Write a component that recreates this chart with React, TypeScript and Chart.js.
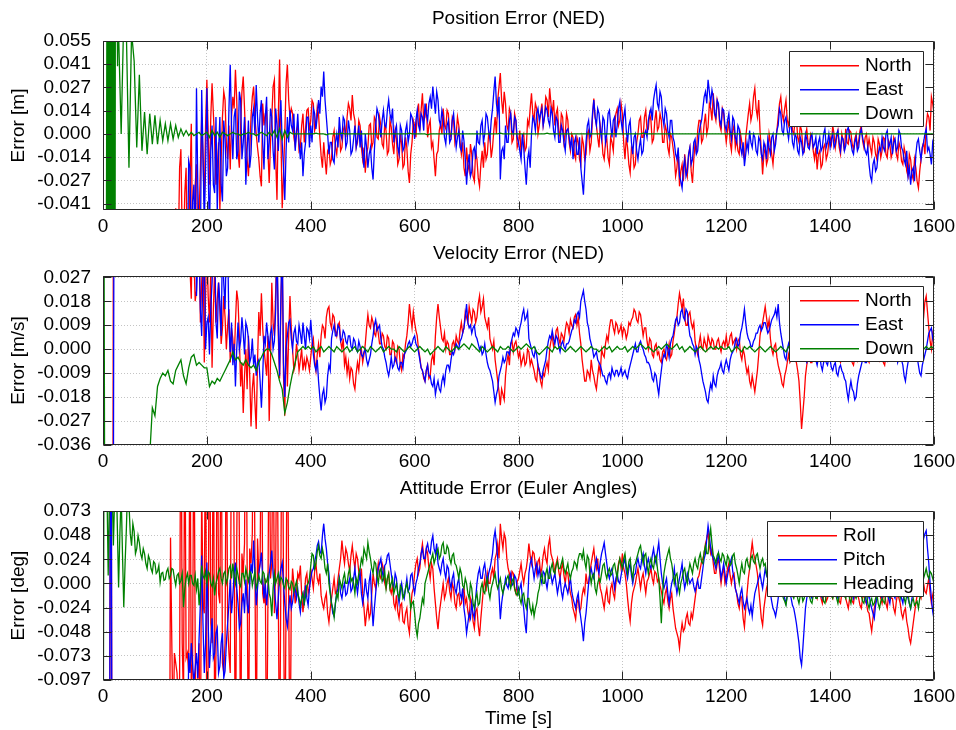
import React, { useEffect, useRef } from "react";
import { Chart, registerables } from "chart.js";

Chart.register(...registerables);

const FONT_FAMILY = "'Liberation Sans', Arial, Helvetica, sans-serif";
const FONT_SIZE = 19;
const TEXT_COLOR = "#000000";
const FRAME_COLOR = "#262626";
const GRID_COLOR = "#c4c4c4";
const LINE_WIDTH = 1.3;

// ---------- time axis ----------
const SAMPLE_STEP_S = 5;     // main samples: t = 0, 5, 10, ... 1600 s
const MID_OFFSET_S = 2.5;    // in-between samples: t = 2.5, 7.5, ... 1597.5 s
const BURST_START_S = 1;     // dense early burst samples (1 s apart) from t = 1 s
const BURST_STEP_S = 1;
const TIME_MIN_S = 0;
const TIME_MAX_S = 1600;
const timeTickValues = [0, 200, 400, 600, 800, 1000, 1200, 1400, 1600];
const timeTickLabels = ["0", "200", "400", "600", "800", "1000", "1200", "1400", "1600"];

// ---------- panel 1 : position error (mm) ----------
const posTickValues = [0.055, 0.04125, 0.0275, 0.01375, 0, -0.01375, -0.0275, -0.04125];
const posTickLabels = ["0.055", "0.041", "0.027", "0.014", "0.000", "-0.014", "-0.027", "-0.041"];
const POS_MIN = -0.045;
const POS_MAX = 0.055;

const posNorthMm = [
  -200,-200,-200,-200,-200,-200,-200,-200,-200,-200,-200,-200,-200,-200,-200,-200,-200,-200,-200,-200,
  -200,-200,-200,-200,-200,-200,-200,-200,-44,-70,-9,-70,-20,-60,6,-55,-18,-50,10,-40,
  32,-30,30,-5,-20,-45,10,20,-15,-21,22,38,-10,5,34,-5,-25,10,28,0,
  -15,-31,5,14,-29,10,32,-39,44,-44,0,41,10,12,-7,5,-8,12,3,15,
  8,18,5,12,-13,-5,-24,-8,-15,2,-12,3,-8,5,10,15,23,8,-5,5,
  -15,-23,-8,6,-5,8,-3,5,-8,2,-10,4,-12,-3,-15,-6,-18,-8,-29,-5,
  5,12,2,24,10,-2,8,-5,-25,-10,6,15,3,12,-2,8,0,5,-12,-20,
  -8,-22,-12,-28,-15,-31,-10,-5,-12,-2,-8,10,20,36,12,18,2,12,-3,8,
  -5,-12,0,-8,5,24,8,15,5,18,10,20,27,12,5,15,-2,10,0,8,
  -10,-2,-15,-5,-18,-6,-12,2,-5,21,5,-8,0,-15,-3,-18,-5,5,15,8,
  12,-15,-8,-23,-10,-18,0,10,-2,14,3,8,-3,14,4,8,-5,2,-12,-2,
  -14,-20,-31,-18,-12,-25,-8,-29,-5,2,8,-3,12,4,15,24,8,16,2,12,
  -5,8,-10,5,-3,-12,-5,-15,5,18,12,27,10,2,-24,-8,-15,-5,-18,-3,
  10,22,8,20,5,14,0,10,-5,2,-10,3,-8,-2,-15,-21,-10,-18,-6,-12,
  -2,5,-8,2,-12,-4,3,-6,1,-9,0,-4,5,-8,0,-3,-12,-5,-15,-6,
  -10,-3,-14,-6,-11,-4,-15,-8,-18,-12,-25,-15,-27,-20,-32,-15,-5,5,10,22,
  12,
];
const posNorthMidMm = [
  -200,-200,-200,-200,-200,-200,-200,-200,-200,-200,-200,-200,-200,-200,-200,-200,-200,-200,-200,-200,
  -200,-200,-200,-200,-200,-200,-200,-200,-80,-20,-60,-35,-80,-30,-70,-30,-65,-20,-15,5,
  0,10,12,-30,-5,-15,25,-5,5,10,15,20,-20,25,15,-15,-10,22,10,-8,
  -25,18,12,-10,-5,28,-15,10,0,-25,30,20,15,-2,2,-10,5,-5,14,2,
  20,2,16,-2,-20,-15,-10,-18,-2,-8,-2,-10,2,-2,18,8,12,-8,8,-8,
  -8,-12,5,-8,10,-2,10,-6,6,-12,8,-6,2,-18,0,-20,-2,-22,-12,8,
  -2,18,14,8,18,5,-8,-15,-12,2,0,5,14,0,10,-5,10,-5,-5,-25,
  -18,-6,-25,-10,-26,-18,-20,-15,0,-14,2,0,28,20,25,5,15,-5,12,-8,
  2,-2,-10,8,15,12,18,0,12,5,22,10,18,20,12,2,12,-5,12,-5,
  0,-12,-2,-15,-2,-15,0,-10,10,10,-2,5,-12,-5,-14,-2,-10,12,5,18,
  -5,-2,-18,-8,-20,-5,8,-2,10,2,12,-5,8,2,12,-5,5,-8,0,-8,
  -25,-10,-22,-28,-20,-12,-22,-15,-12,8,-5,6,0,18,8,12,20,5,15,2,
  2,-5,2,-8,-10,0,-12,-2,12,8,22,15,20,-10,-12,-18,0,-12,-8,2,
  18,12,15,8,12,2,8,-2,5,-8,-2,-5,0,-10,-8,-12,-20,-8,-15,-5,
  -6,0,-2,-8,0,-10,-5,2,-6,-3,-8,2,-4,-2,-8,-8,-2,-12,-3,-14,
  -2,-12,-4,-14,-2,-12,-5,-16,-8,-22,-12,-24,-15,-28,-22,-8,-12,12,2,18,
];

const posEastMm = [
  -200,-200,-200,-200,-200,-200,-200,-200,-200,-200,-200,-200,-200,-200,-200,-200,-200,-200,-200,-200,
  -200,-200,-200,-200,-200,-200,-200,-200,-200,-200,-200,-200,-200,-16,-70,-30,27,-60,26,-55,
  27,-60,5,-35,-46,10,-40,-3,-20,41,-15,15,-10,20,-5,-30,8,-12,15,29,
  -5,20,-21,22,-5,10,-21,5,8,-5,-39,10,14,2,-10,12,-15,-25,-5,10,
  5,15,3,20,28,37,10,-12,-5,-17,0,10,-3,8,-5,2,-10,5,-3,-8,
  -12,0,-20,-8,-27,5,12,-2,14,4,20,8,-5,5,-12,2,-8,6,0,10,
  -3,14,2,10,18,8,22,28,12,20,5,10,-6,8,-3,12,-8,2,-10,-4,
  -30,-12,-22,-8,2,-6,8,0,10,-3,15,34,12,-27,-8,5,-5,12,0,8,
  -5,-15,-8,-30,-10,0,8,12,8,15,10,14,5,12,-2,8,-5,2,-10,3,
  -8,-15,-2,-12,-20,-36,-5,8,0,20,5,12,-3,8,0,14,-2,10,5,19,
  2,15,-5,8,-12,0,-15,-3,-10,2,8,15,20,29,15,22,5,12,-2,8,
  -5,-15,-25,-32,-15,-22,-8,-15,-3,-10,5,15,25,32,18,22,10,18,5,14,
  2,12,-3,8,-5,3,-12,-19,-5,2,-8,-2,-12,-4,-15,-8,-3,-12,0,-6,
  5,12,0,10,-3,6,-8,-2,-12,-5,-10,-3,-9,0,-6,-12,-2,-8,3,-5,
  -8,0,-6,2,-10,-3,-7,4,-5,-12,-2,-8,3,-6,-12,-18,-28,-15,-20,-8,
  -2,-10,2,-6,-12,-3,-8,0,-10,-18,-25,-30,-20,-12,-3,-15,-5,3,-8,-18,
  -8,
];
const posEastMidMm = [
  -200,-200,-200,-200,-200,-200,-200,-200,-200,-200,-200,-200,-200,-200,-200,-200,-200,-200,-200,-200,
  -200,-200,-200,-200,-200,-200,-200,-200,-200,-200,-200,-200,-80,-20,-40,-75,-30,-70,-10,-20,
  -20,-10,-30,10,-10,-30,8,-25,15,5,10,-15,25,-15,10,-10,-20,10,0,10,
  12,-5,10,-15,15,-10,15,-10,20,-20,-10,-5,5,12,0,-5,-5,-12,10,-8,
  -5,12,10,12,22,20,0,-5,-15,-5,-8,0,10,-8,8,-12,-3,-8,5,2,
  -20,-8,-12,-20,-10,15,5,8,5,14,12,15,2,-8,5,-10,2,-5,12,5,
  8,5,12,2,12,18,15,20,25,8,14,-2,5,-5,8,2,-2,-8,2,-15,
  -18,-25,-10,-15,-5,5,-5,12,2,8,25,18,22,-10,-15,-5,8,2,10,-2,
  -10,0,-20,-15,-20,10,2,15,12,5,16,8,15,2,10,-5,5,-5,2,-2,
  -2,-5,-12,-2,-28,-20,5,-2,12,10,15,2,10,-5,12,5,8,-2,15,8,
  10,2,5,-5,-2,-10,-8,-12,0,-2,12,8,25,18,25,10,15,2,8,-2,
  -12,-8,-28,-20,-25,-12,-18,-5,-12,0,8,22,18,25,26,12,20,8,15,5,
  8,2,10,-2,5,-8,-5,-12,-10,-5,0,-10,-2,-12,-5,-15,-8,-2,-10,2,
  15,2,8,2,5,-5,0,-10,-2,-12,0,-8,-2,-8,-2,-5,-10,0,-8,0,
  -3,-8,0,-5,-2,-10,2,-2,-10,-5,-10,0,-2,-10,-8,-25,-18,-22,-12,-10,
  -8,0,-8,-2,-5,-10,2,-8,-15,-10,-20,-22,-28,-5,-10,-8,0,-10,-12,-5,
];

const posDownMm = [
  -150,-150,150,-150,150,80,60,0,70,60,-20,60,43,-8,35,-10,13,-12,12,-6,
  11,-6,8,-4,6,-4,6,-3,5,-2,3,-1,2,-1,1,-1,0,1,-1,0,
  1,-2,2,-1,1,-2,1,0,-1,0,1,0,0,-1,0,0,1,0,0,-1,
  0,1,0,-1,1,-1,2,-2,3,-3,2,-2,1,0,0,0,0,0,0,0,
  0,0,0.5,0,0,0,-0.5,0,0,0,0,0,0.5,0,0,0,0,0,0,0,
  0,0,0,0,0,0,0,0,0,0,0,0,0,0,0,0,0,0,0.5,0,
  0,0,0,0,0,-0.5,0,0,0,0,0,0,0,0,0,0,0,0,0,0,
  0,0,0,0,0,0,0,0,0,0,0,0,0,0.5,0,0,0,0,0,0,
  0,0,0,0,0,0,0,0,0,0,0,0.5,0,0,0,0,0,0,0,0,
  0,0,0,0,0,0,0,0,0,0,0,0,0,0,0,0,0,0,0,0,
  0,0,0,0,0,0,0,0,0.5,0,0,0,0,0,0,0,0,0,0,0,
  0,0,0,0,0,0,0,0,0,0,0,0,0,0,0,0,0,0,0,0,
  0,0,0,0,0,0,0,0,0,0,0,0,0,0,0,0,0,0,0,0,
  0,0,0,0,0,0,0,0,0,0,0,0,0,0,0,0,0,0,0,0,
  0,0,0,0,0,0,0,0,0,0,0,0,0,0,0,0,0,0,0,0,
  0,0,0,0,0,0,0,0,0,0,0,0,0,0,0,0,0,0,0,0,
  0,
];
// early 1-s samples of the Down position transient (t = 1 .. 29 s)
const posDownBurstMm = [
  -150,-150,-150,-150,-150,-150,-150,150,-150,150,-150,150,-150,150,-150,
  150,-150,150,-150,150,-150,150,-150,150,80,60,90,40,70,
];

// ---------- panel 2 : velocity error (mm/s) ----------
const velTickValues = [0.027, 0.018, 0.009, 0, -0.009, -0.018, -0.027, -0.036];
const velTickLabels = ["0.027", "0.018", "0.009", "0.000", "-0.009", "-0.018", "-0.027", "-0.036"];
const VEL_MIN = -0.036;
const VEL_MAX = 0.0275;

const velNorthMmS = [
  -300,-300,-300,-300,60,200,200,200,200,200,200,200,200,200,200,200,200,200,200,200,
  200,200,200,200,200,200,200,200,200,200,200,200,200,40,19,35,22,40,25,-5,
  40,10,-7,30,19,15,8,12,9,-5,4,10,18,-14,-24,0,5,-29,-9,-30,
  14,21,0,-10,-27,25,5,40,-11,40,-25,-14,20,0,-6,-2,-4,-8,-7,-5,
  -3,4,-8,2,5,8,12,16,8,12,5,10,0,-6,-9,-11,-8,-15,-5,-2,
  -5,2,13,8,10,5,6,2,5,0,4,-2,2,-5,0,-8,-3,5,17,8,
  10,5,-3,-8,-12,-6,-10,-2,5,17,8,3,0,2,-2,3,5,2,10,8,
  12,16,10,14,12,20,16,12,8,4,0,-4,-12,-21,-17,-10,-2,2,-1,3,
  -3,-6,-2,-5,-1,-4,-8,-12,-8,-14,-10,-5,0,5,3,8,2,5,7,9,
  11,8,13,12,2,-8,-12,-9,-4,-10,-15,-6,0,-3,5,8,11,6,9,7,
  5,7,6,9,12,14,10,13,5,8,0,3,-3,2,-1,-5,0,-4,2,-2,
  6,12,21,15,12,9,14,8,3,-2,5,0,2,5,1,3,0,4,-1,3,
  5,2,6,3,0,4,-4,-2,-9,-12,-10,-16,-8,5,10,16,8,4,-2,2,
  -6,-10,-14,-8,-2,-4,0,-5,-12,-30,-18,-6,-2,-5,0,-3,2,-2,1,-4,
  0,-3,2,-2,-5,0,-4,1,-3,-6,-2,0,-4,2,-2,-5,0,-3,1,-4,
  -2,-6,0,-3,2,-2,0,-4,-1,2,-3,0,3,-2,1,5,12,20,8,0,
  4,
];
const velNorthMidMmS = [
  -300,-300,-300,-300,200,200,200,200,200,200,200,200,200,200,200,200,200,200,200,200,
  200,200,200,200,200,200,200,200,200,200,200,200,100,30,60,18,60,10,40,20,
  20,30,15,10,25,2,20,0,15,8,-5,22,5,-5,-10,-15,-10,-15,-20,-5,
  5,8,-5,5,-5,10,22,5,15,-10,10,5,8,-8,2,-8,0,-4,-3,-8,
  2,-4,-2,-3,9,4,15,10,13,7,9,3,4,-3,-5,-7,-13,-9,-8,0,
  -2,8,9,12,6,9,2,6,1,5,-2,3,-4,1,-6,-2,2,10,12,14,
  7,0,-7,-11,-8,-11,-4,-6,12,12,4,6,3,-2,2,0,3,7,6,14,
  10,13,15,10,17,14,19,10,12,2,3,-8,-16,-15,-19,-5,-6,3,2,0,
  -1,-4,-6,0,-6,-6,-11,-6,-12,-9,-7,-8,3,1,7,4,6,3,10,6,
  9,12,9,6,-4,-12,-8,-11,-8,-13,-10,-9,-2,2,3,11,8,10,6,9,
  8,4,10,11,15,11,14,9,8,3,4,-2,1,-2,-4,-1,-3,-1,-3,3,
  10,17,18,19,9,13,10,10,0,2,1,4,0,3,4,0,3,1,2,1,
  1,5,2,4,3,-2,0,-6,-7,-14,-13,-12,-2,8,13,12,11,0,1,-3,
  -8,-13,-10,-5,-5,0,-4,-8,-20,-24,-10,-3,-5,-1,-4,1,-1,2,-3,1,
  2,-1,-2,-4,-2,-3,-1,-2,-5,-3,-4,-3,0,-1,-4,-2,-2,0,-2,-1,
  -5,-2,-4,0,-1,1,-3,0,0,-1,-2,2,0,-1,4,8,18,14,3,6,
];

const velEastMmS = [
  -300,-300,-300,-300,-60,200,200,200,200,200,200,200,200,200,200,200,200,200,200,200,
  200,200,200,200,200,200,200,200,200,200,200,200,200,200,200,200,20,40,5,35,
  10,-2,25,40,4,18,40,15,40,-1,-6,-14,10,3,6,10,4,-3,-6,-10,
  -4,-22,5,10,0,8,3,40,-10,40,-18,5,11,0,8,2,6,10,0,7,
  11,-2,-8,-12,-23,-15,-18,-6,4,9,5,8,4,6,2,5,0,3,-1,1,
  -3,0,-6,-2,5,11,8,4,0,-5,-10,-3,-6,-4,-8,-5,-2,0,3,2,
  5,1,-4,-8,-12,-6,-10,-14,-17,-12,-16,-10,-8,-6,-4,-2,2,0,4,8,
  17,8,6,9,4,0,-2,2,-5,-8,-12,-20,-15,-8,-3,-4,-1,2,6,8,
  5,10,15,12,4,0,-3,-2,-8,-11,-6,0,5,7,2,4,-1,3,0,2,
  5,8,10,14,18,22,15,8,2,-3,-1,-5,-8,-10,-13,-9,-7,-10,-8,-9,
  -10,-8,-11,-6,-2,2,-1,3,0,-3,-5,-8,-12,-10,-17,-8,-2,2,-3,4,
  8,12,10,15,11,14,5,2,-2,0,-6,-12,-16,-20,-13,-10,-14,-8,-5,-9,
  -4,-8,-2,0,4,2,8,15,6,3,1,4,6,9,8,10,6,9,12,15,
  17,6,0,-4,2,-2,3,0,-3,1,-2,-5,0,-4,-1,-6,-2,-8,-3,-6,
  -4,-8,-5,-10,-6,-9,-12,-19,-12,-16,-18,-10,-6,-2,-5,0,-3,2,-2,1,
  -1,2,-4,0,-2,2,-5,-1,-6,-12,-5,0,-3,1,-6,-10,-4,0,6,8,
  2,
];
const velEastMidMmS = [
  -300,-300,-300,-300,200,200,200,200,200,200,200,200,200,200,200,200,200,200,200,200,
  200,200,200,200,200,200,200,200,200,200,200,200,200,200,200,100,35,15,30,0,
  12,15,40,10,25,5,25,40,8,10,2,0,0,12,-2,8,-5,4,-2,-5,
  -12,-10,2,5,6,0,15,10,20,-5,0,10,4,6,3,9,2,5,8,4,
  4,-6,-4,-18,-17,-20,-10,-8,7,5,9,3,7,3,5,1,4,0,3,-2,
  -1,-4,-4,2,9,7,9,1,-3,-8,-7,-7,-3,-7,-5,-7,-1,2,1,4,
  2,-1,-7,-10,-8,-10,-13,-11,-14,-15,-12,-13,-6,-8,-1,0,1,3,6,12,
  10,9,8,5,2,1,-1,-2,-7,-10,-16,-17,-10,-6,-5,-1,-2,4,5,7,
  8,13,11,14,2,-2,0,-6,-10,-8,-4,3,4,4,5,1,2,1,2,3,
  7,11,13,12,20,18,10,4,0,-2,-4,-6,-10,-12,-10,-11,-9,-8,-10,-7,
  -9,-10,-8,-4,0,-1,2,1,-2,-5,-6,-11,-9,-14,-12,-4,-3,0,2,5,
  11,9,14,12,15,9,4,1,1,-4,-9,-14,-19,-16,-15,-13,-10,-7,-8,-6,
  -6,-4,-1,3,1,6,11,10,4,1,3,6,8,7,10,8,7,11,13,12,
  10,3,-3,0,-1,2,0,-2,-1,-2,-4,-2,-3,-2,-4,-3,-6,-5,-5,-3,
  -7,-6,-9,-7,-8,-11,-16,-15,-15,-19,-13,-8,-4,-5,-2,-2,0,-1,0,-2,
  1,-2,-1,-3,1,-2,-3,-4,-10,-8,-3,-2,0,-3,-9,-6,-2,3,7,4,
];

const velDownMmS = [
  200,-200,-200,-200,-200,-200,-200,-200,-200,-200,-200,-200,-200,-200,-200,-200,-200,-200,-40,-22,
  -25,-14,-11,-9,-10,-8,-12,-13,-8,-6,-4,-10,-13,-7,-3,-2,-6,-5,-6,-7,
  -7,-14,-12,-13,-11,-12,-10,-8,-6,-4,-1,-4,-3,-5,-6,-4,-6,-7,-6,-8,
  -5,-3,-1,0,0,-2,-5,-8,-12,-15,-24,-20,-14,-9,-5,-1,0,1,0,1,
  0,1,-1,0,1,-1,0,1,0,-1,1,0,-1,0,1,-1,0,1,-1,0,
  1,0,-1,1,0,-1,0,1,-1,0,1,0,0,-1,1,0,-1,0,1,0,
  -1,0,1,0,-1,0,-2,-1,0,1,0,-1,1,0,-1,0,1,0,1,2,
  1,0,2,1,0,-1,1,0,-1,0,1,0,-1,1,0,0,1,0,-1,0,
  1,0,1,2,1,0,1,-1,-2,-1,0,1,0,-1,1,0,1,0,-1,0,
  1,0,-1,0,1,0,-1,0,1,0,0,-1,0,1,0,1,-1,0,1,0,
  0,1,-1,0,1,0,1,2,1,0,1,0,-1,0,1,0,1,2,1,0,
  1,2,0,1,-1,0,1,0,-1,0,1,0,-1,0,1,0,1,0,1,0,
  0,1,-1,0,1,0,-1,1,0,1,0,-1,0,1,0,-1,0,1,0,-1,
  0,1,0,-1,1,0,1,0,-1,0,1,0,-1,0,1,0,0,-1,1,0,
  -1,0,1,0,-1,1,0,-1,0,1,0,-1,1,0,0,1,-1,0,1,0,
  0,-1,1,0,1,0,-1,0,1,0,-1,1,0,1,0,-1,0,1,0,1,
  0,
];

// ---------- panel 3 : attitude error (millidegrees) ----------
const attTickValues = [0.07275, 0.0485, 0.02425, 0, -0.02425, -0.0485, -0.07275, -0.097];
const attTickLabels = ["0.073", "0.048", "0.024", "0.000", "-0.024", "-0.048", "-0.073", "-0.097"];
const ATT_MIN = -0.097;
const ATT_MAX = 0.07275;

const attRollMdeg = [
  -300,-300,-300,400,-300,-300,-300,-300,-300,-300,-300,-300,-300,-300,-300,-300,-300,-300,-300,-300,
  -300,-300,-300,-300,-300,-300,46,-150,-80,-120,250,-120,-75,-90,-110,200,-200,-60,100,-30,
  -200,250,-60,-150,200,-20,-80,-60,-40,-90,200,-200,200,-200,10,250,-200,20,250,-200,
  10,200,-20,-200,200,20,-30,200,-200,250,-200,200,-200,15,-20,10,18,-29,5,-10,
  15,-5,20,0,-12,-25,-10,-39,-15,5,-8,15,43,20,30,12,38,15,25,5,
  -10,-43,-20,-30,10,-5,20,5,15,-5,10,-10,-20,-12,-35,-20,-40,-25,-50,-10,
  10,25,15,40,20,30,5,15,-20,-46,-20,0,-10,5,-15,-5,-25,-10,-20,-5,
  -15,-35,-20,-45,-25,-53,-20,5,10,0,15,25,40,60,35,45,15,0,10,-10,
  5,20,0,15,40,20,30,10,25,15,35,20,45,25,10,25,5,20,0,10,
  -10,-25,-36,-15,-25,-5,10,0,20,35,15,5,-10,-25,-5,-20,0,-15,10,25,
  30,10,-15,-38,-10,0,15,-5,10,-10,5,15,0,10,5,-8,-20,-5,-25,-10,
  -35,-50,-65,-40,-45,-30,-42,-35,-15,5,15,25,40,52,30,20,10,25,0,15,
  5,20,0,10,-10,-25,-15,-44,-10,15,41,25,10,-20,-42,-15,0,15,-5,10,
  0,15,5,-10,10,20,5,15,-5,10,-10,5,20,10,0,-15,-5,-20,-10,-15,
  -5,-15,0,-10,-20,-5,-15,-25,-10,-20,-5,-15,-25,-10,-20,-30,-48,-25,-15,-5,
  -20,-10,-25,-5,-15,-30,-10,-20,-35,-25,-45,-60,-40,-20,-5,-15,0,-10,5,-20,
  -5,
];
const attRollMidMdeg = [
  -300,-300,-300,-300,-300,-300,-300,-300,-300,-300,-300,-300,-300,-300,-300,-300,-300,-300,-300,-300,
  -300,-300,-300,-300,-300,-300,-60,-70,-90,-95,-60,200,-70,200,-80,-60,-97,-200,-20,200,
  -80,-40,200,-70,-10,200,-90,200,-70,200,30,40,50,30,40,20,35,50,25,45,
  20,-10,5,-20,5,200,15,-10,10,0,-20,-10,-20,0,-10,5,-10,-15,10,-5,
  5,12,5,10,-20,-15,-30,-25,-5,-10,5,25,30,35,20,28,25,30,12,15,
  -25,-30,-35,-10,0,10,8,20,0,5,-5,-2,-25,-28,-22,-38,-30,-42,-25,-5,
  20,10,30,28,35,15,20,-5,-35,-30,-10,-15,0,-8,0,-20,-12,-22,-10,-20,
  -28,-15,-38,-28,-42,-35,-5,-8,0,10,5,30,25,45,50,25,10,12,-5,2,
  12,8,10,25,28,32,18,22,10,28,25,38,30,20,20,12,15,8,12,-2,
  -15,-30,-20,-28,-12,-10,0,12,28,22,25,-5,-18,-12,-18,-5,-10,0,20,15,
  15,0,-28,-20,-5,8,5,5,0,2,10,5,12,2,-2,-15,-10,-18,-15,-25,
  -45,-55,-50,-48,-35,-40,-30,-25,-5,8,22,30,45,38,35,10,20,12,10,0,
  15,8,8,-5,-20,-12,-35,-25,5,30,30,18,-5,-35,-25,-5,10,2,5,5,
  10,8,-5,2,15,10,12,5,2,-2,0,15,12,2,-10,-8,-15,-12,-18,-8,
  -12,-5,-8,-18,-10,-12,-20,-15,-18,-10,-12,-22,-15,-18,-28,-40,-35,-18,-12,-15,
  -12,-20,-12,-15,-25,-18,-15,-30,-28,-38,-55,-50,-30,-12,-12,-5,-8,-2,-10,-12,
];

const attPitchMdeg = [
  -300,-300,-300,400,-300,-300,-300,-300,-300,-300,-300,-300,-300,-300,-300,-300,-300,-300,-300,-300,
  -300,-300,-300,-300,-300,-300,-300,-300,-300,-300,-300,-300,-300,-70,-60,-100,-70,-55,28,-90,
  21,-85,-35,-70,-45,-83,-50,-88,-40,4,-12,21,-20,-40,-10,4,-30,20,43,-22,
  10,31,-15,-22,10,33,-5,-36,5,21,-20,-43,-12,-19,-5,-6,-29,-10,-2,-22,
  5,15,28,42,30,60,35,10,-20,-33,-10,5,-15,0,-10,5,-5,15,-10,10,
  -20,5,-15,10,-43,-10,15,25,5,20,30,10,-5,5,-20,0,-15,5,-5,10,
  -10,5,20,35,25,40,30,48,30,20,10,25,5,15,-5,10,-10,5,-15,-25,
  -50,-30,-20,-35,0,15,5,20,0,15,30,53,25,-36,-10,5,-5,10,0,5,
  -10,0,-25,-50,10,25,5,20,15,0,10,-5,15,0,10,-10,5,-15,0,-10,
  5,-15,-25,-10,-35,-58,-30,0,15,5,25,10,30,41,20,5,15,-5,10,0,
  15,25,5,20,0,10,25,15,30,10,25,15,35,20,41,10,-5,5,-20,0,
  15,-10,5,20,-5,10,0,5,-8,3,-5,15,30,58,35,25,15,30,5,20,
  0,15,25,5,-10,-20,-5,-25,-15,-30,-33,-10,0,10,-5,15,5,-10,-25,-33,
  -15,0,-10,-20,-5,-15,-25,-40,-60,-82,-45,-15,-5,-15,0,-10,-5,-15,0,-10,
  5,-10,0,-15,5,-5,10,-10,0,-15,-5,5,-10,0,-20,-10,-25,-35,-15,-5,
  -15,0,-10,-20,-5,-15,0,-10,-20,-5,-15,-25,-10,0,15,30,45,53,20,-15,
  -36,
];
const attPitchMidMdeg = [
  -300,-300,-300,-300,-300,-300,-300,-300,-300,-300,-300,-300,-300,-300,-300,-300,-300,-300,-300,-300,
  -300,-300,-300,-300,-300,-300,-300,-300,-300,-300,-300,-300,-200,-90,-80,-85,-95,-20,-40,-60,
  -40,-60,-75,-50,-90,-60,-95,-60,-20,-30,10,-5,-45,-20,-30,-20,0,10,10,-5,
  20,5,0,-5,20,10,-20,-15,15,0,-35,-25,-25,-8,-15,-20,-15,-22,-15,-5,
  12,22,38,32,48,45,20,-8,-30,-20,-5,-10,-5,-12,0,-8,5,0,2,-10,
  -10,-8,2,-20,-25,5,20,12,18,28,20,0,10,-10,-8,-10,-5,-8,8,-2,
  0,15,30,25,35,32,42,35,40,15,20,12,18,2,5,-5,0,-10,-5,-35,
  -40,-35,-30,-15,10,5,15,8,10,22,45,40,-10,-20,-5,-2,5,-2,8,-5,
  -5,-15,-40,-20,20,15,15,8,5,12,2,5,8,5,0,-2,-8,-5,-5,-2,
  -8,-20,-15,-25,-45,-40,-15,10,8,18,15,22,35,30,10,12,5,5,2,8,
  20,12,15,8,8,20,18,25,18,20,18,28,25,32,25,0,0,-10,-8,5,
  0,-2,12,5,2,5,3,-3,-2,-5,5,25,45,48,28,20,22,18,12,10,
  8,20,12,-5,-15,-10,-18,-20,-25,-22,-20,-5,5,2,5,8,-5,-18,-28,-25,
  -5,-8,-15,-12,-10,-22,-32,-50,-75,-65,-25,-8,-12,-5,-8,-3,-12,-5,-8,-2,
  -5,-2,-8,-5,0,5,0,-5,-8,-10,0,-5,-5,-12,-15,-20,-30,-22,-10,-12,
  -5,-8,-15,-10,-12,-5,-8,-15,-10,-12,-20,-15,-5,8,25,38,50,35,0,-28,
];

const attHeadingMdeg = [
  -300,200,8,150,38,120,-4,90,-24,55,80,38,52,35,41,25,30,15,24,11,
  20,12,1,11,4,15,8,14,-2,10,3,-24,5,0,8,-2,-6,-22,18,5,
  0,10,-3,-12,5,15,0,12,5,18,20,0,8,-3,10,15,2,10,5,-5,
  8,0,10,2,-10,-33,10,5,0,4,-5,3,-6,0,-3,-10,-22,-10,-13,0,
  18,28,20,38,25,28,10,0,-20,-34,-10,5,-5,10,0,15,5,-10,0,15,
  20,30,41,25,10,20,0,15,5,-5,10,0,-10,0,-15,-5,-12,0,-10,-20,
  -30,-53,-35,-15,0,10,20,30,25,35,28,41,30,35,20,30,18,5,10,-5,
  0,-15,-5,-25,-10,-20,0,-10,5,-15,0,10,-5,5,-10,0,8,-5,5,-10,
  -5,-20,-10,-25,-15,-30,-33,-20,-5,10,0,15,5,20,10,22,15,25,10,20,
  5,15,20,25,30,33,15,25,0,10,-10,5,10,20,5,15,10,20,5,25,
  15,30,10,25,5,20,30,38,20,30,10,25,15,28,5,-40,10,25,35,20,
  0,10,-10,5,15,0,20,10,25,15,30,20,38,30,55,28,20,31,22,28,
  18,25,20,30,15,0,20,10,25,15,28,20,30,15,25,20,5,10,-5,0,
  -10,-5,-15,-22,-10,-5,-15,-8,-20,-10,-15,-5,-12,-20,-8,-15,-5,-12,-20,-10,
  -5,-15,-8,-20,-12,-5,-15,-10,-20,-8,-15,-5,-12,-20,-10,-25,-15,-20,-10,-25,
  -15,-20,-5,-15,0,-10,5,-15,-5,-20,-10,-25,-15,-20,-25,-10,5,15,5,10,
  0,
];
const attHeadingMidMdeg = [
  300,100,90,100,90,60,50,30,20,100,50,60,30,48,30,35,20,28,15,22,
  10,18,10,3,12,5,15,5,8,0,10,-5,10,8,0,8,5,-5,8,12,
  12,0,5,0,12,5,10,0,15,5,8,15,0,10,2,8,12,-2,12,0,
  2,12,0,8,-15,-5,0,10,6,-2,5,-4,2,-8,2,-15,-15,-20,-2,5,
  30,15,32,28,35,15,20,-10,-25,-20,-15,0,5,0,10,2,0,5,10,25,
  35,25,32,15,22,8,12,2,12,5,-5,5,-5,-10,-2,-15,-5,-8,-25,-18,
  -45,-40,-25,-20,5,15,25,20,32,25,38,30,38,25,28,20,12,15,-2,5,
  -10,0,-20,-15,-22,-5,-8,0,-8,-5,5,0,0,-5,-2,5,0,2,-5,-12,
  -15,-12,-20,-15,-25,-22,-25,-10,5,0,10,5,15,12,18,15,20,15,15,10,
  12,22,15,30,25,22,28,10,8,-5,0,2,18,10,12,8,18,12,18,20,
  25,18,22,12,18,25,35,28,28,18,20,18,25,15,-15,-10,18,30,25,10,
  8,-2,0,12,5,12,15,20,18,25,22,32,30,45,40,25,28,25,30,22,
  28,18,28,20,8,12,12,22,18,25,22,28,22,22,18,10,12,2,5,-8,
  -12,-10,-18,-12,-8,-12,-10,-15,-12,-18,-8,-10,-18,-12,-15,-8,-10,-18,-12,-10,
  -12,-10,-15,-12,-8,-12,-8,-15,-12,-12,-10,-10,-18,-12,-20,-18,-22,-15,-20,-18,
  -18,-10,-12,-5,-8,-2,-5,-8,-15,-12,-20,-18,-22,-18,-15,0,10,8,12,5,
];

// data are stored in milli-units (mm, mm/s, millidegrees)
const MILLI = 0.001;

type Pt = { x: number; y: number };

function gridPoints(values: number[]): Pt[] {
  return values.map((v, i) => ({ x: TIME_MIN_S + i * SAMPLE_STEP_S, y: v * MILLI }));
}
function midPoints(values: number[]): Pt[] {
  return values.map((v, i) => ({ x: MID_OFFSET_S + i * SAMPLE_STEP_S, y: v * MILLI }));
}
function burstPoints(values: number[]): Pt[] {
  return values.map((v, i) => ({ x: BURST_START_S + i * BURST_STEP_S, y: v * MILLI }));
}
function merged(...parts: Pt[][]): Pt[] {
  return ([] as Pt[]).concat(...parts).sort((p, q) => p.x - q.x);
}

const RED = "#ff0000";
const BLUE = "#0000ff";
const GREEN = "#008000";

type SeriesSpec = { label: string; color: string; points: Pt[] };
type PanelSpec = {
  top: number;
  height: number;
  padTop: number;
  padBottom: number;
  xAxisHeight: number;
  title: string;
  yTitle: string;
  xTitle?: string;
  yMin: number;
  yMax: number;
  yTicks: number[];
  yTickLabels: string[];
  series: SeriesSpec[];
};

const PANELS: PanelSpec[] = [
  {
    top: 0, height: 243, padTop: 41, padBottom: 3, xAxisHeight: 30,
    title: "Position Error (NED)", yTitle: "Error [m]",
    yMin: POS_MIN, yMax: POS_MAX, yTicks: posTickValues, yTickLabels: posTickLabels,
    series: [
      { label: "North", color: RED, points: merged(gridPoints(posNorthMm), midPoints(posNorthMidMm)) },
      { label: "East", color: BLUE, points: merged(gridPoints(posEastMm), midPoints(posEastMidMm)) },
      { label: "Down", color: GREEN, points: merged(gridPoints(posDownMm), burstPoints(posDownBurstMm)) },
    ],
  },
  {
    top: 243, height: 235, padTop: 33, padBottom: 3, xAxisHeight: 30,
    title: "Velocity Error (NED)", yTitle: "Error [m/s]",
    yMin: VEL_MIN, yMax: VEL_MAX, yTicks: velTickValues, yTickLabels: velTickLabels,
    series: [
      { label: "North", color: RED, points: merged(gridPoints(velNorthMmS), midPoints(velNorthMidMmS)) },
      { label: "East", color: BLUE, points: merged(gridPoints(velEastMmS), midPoints(velEastMidMmS)) },
      { label: "Down", color: GREEN, points: gridPoints(velDownMmS) },
    ],
  },
  {
    top: 478, height: 252, padTop: 33, padBottom: 0, xAxisHeight: 50,
    title: "Attitude Error (Euler Angles)", yTitle: "Error [deg]", xTitle: "Time [s]",
    yMin: ATT_MIN, yMax: ATT_MAX, yTicks: attTickValues, yTickLabels: attTickLabels,
    series: [
      { label: "Roll", color: RED, points: merged(gridPoints(attRollMdeg), midPoints(attRollMidMdeg)) },
      { label: "Pitch", color: BLUE, points: merged(gridPoints(attPitchMdeg), midPoints(attPitchMidMdeg)) },
      { label: "Heading", color: GREEN, points: merged(gridPoints(attHeadingMdeg), midPoints(attHeadingMidMdeg)) },
    ],
  },
];

const TICK_LEN = 8;

function makeFramePlugin(spec: PanelSpec) {
  return {
    id: "matlabFrame",
    afterDatasetsDraw(chart: any) {
      const ctx = chart.ctx as CanvasRenderingContext2D;
      const { left, right, top, bottom } = chart.chartArea;
      const L = Math.round(left) + 0.5;
      const R = Math.round(right) - 0.5;
      const T = Math.round(top) + 0.5;
      const B = Math.round(bottom) - 0.5;
      ctx.save();
      ctx.setLineDash([]);
      ctx.lineWidth = 1;
      ctx.strokeStyle = FRAME_COLOR;
      const xs = chart.scales.x;
      const ys = chart.scales.y;
      ctx.beginPath();
      ys.ticks.forEach((t: any) => {
        const py = Math.round(ys.getPixelForValue(t.value)) + 0.5;
        ctx.moveTo(L, py);
        ctx.lineTo(L + TICK_LEN, py);
        ctx.moveTo(R, py);
        ctx.lineTo(R - TICK_LEN, py);
      });
      xs.ticks.forEach((t: any) => {
        const px = Math.round(xs.getPixelForValue(t.value)) + 0.5;
        ctx.moveTo(px, B);
        ctx.lineTo(px, B - TICK_LEN);
        ctx.moveTo(px, T);
        ctx.lineTo(px, T + TICK_LEN);
      });
      ctx.stroke();
      ctx.beginPath();
      ctx.rect(L, T, R - L, B - T);
      ctx.stroke();

      // legend inside the top-right corner
      ctx.font = `${FONT_SIZE}px ${FONT_FAMILY}`;
      let maxW = 0;
      spec.series.forEach((s) => {
        maxW = Math.max(maxW, ctx.measureText(s.label).width);
      });
      const boxW = Math.round(76 + maxW + 10);
      const boxH = 76;
      const boxR = Math.round(right) - 10;
      const boxL = boxR - boxW;
      const boxT = Math.round(top) + 10;
      ctx.fillStyle = "#ffffff";
      ctx.fillRect(boxL, boxT, boxW, boxH);
      ctx.strokeStyle = FRAME_COLOR;
      ctx.lineWidth = 1;
      ctx.beginPath();
      ctx.rect(boxL + 0.5, boxT + 0.5, boxW - 1, boxH - 1);
      ctx.stroke();
      spec.series.forEach((s, i) => {
        const y = boxT + 14 + i * 24;
        ctx.strokeStyle = s.color;
        ctx.lineWidth = 1.6;
        ctx.beginPath();
        ctx.moveTo(boxL + 11, y + 0.8);
        ctx.lineTo(boxL + 70, y + 0.8);
        ctx.stroke();
        ctx.fillStyle = TEXT_COLOR;
        ctx.textAlign = "left";
        ctx.textBaseline = "middle";
        ctx.fillText(s.label, boxL + 76, y + 1);
      });

      // panel title
      ctx.fillStyle = TEXT_COLOR;
      ctx.textAlign = "center";
      ctx.textBaseline = "middle";
      ctx.fillText(spec.title, (left + right) / 2, top - 22);
      ctx.restore();
    },
  };
}

function Panel({ spec }: { spec: PanelSpec }) {
  const ref = useRef<HTMLCanvasElement | null>(null);
  useEffect(() => {
    const canvas = ref.current;
    if (!canvas) return;
    const n = spec.series.length;
    const font = { family: FONT_FAMILY, size: FONT_SIZE };
    const chart = new Chart(canvas, {
      type: "line",
      data: {
        datasets: spec.series.map((s, i) => ({
          label: s.label,
          data: s.points,
          borderColor: s.color,
          backgroundColor: s.color,
          borderWidth: LINE_WIDTH,
          pointRadius: 0,
          pointHoverRadius: 0,
          tension: 0,
          fill: false,
          order: n - 1 - i,
          clip: 0,
        })),
      },
      options: {
        animation: false,
        responsive: false,
        maintainAspectRatio: false,
        parsing: false,
        normalized: true,
        events: [],
        layout: { padding: { left: 0, right: 22, top: spec.padTop, bottom: spec.padBottom } },
        plugins: {
          legend: { display: false },
          tooltip: { enabled: false },
          title: { display: false },
        },
        scales: {
          x: {
            type: "linear",
            min: TIME_MIN_S,
            max: TIME_MAX_S,
            afterBuildTicks: (s: any) => {
              s.ticks = timeTickValues.map((v) => ({ value: v }));
            },
            afterFit: (s: any) => {
              s.height = spec.xAxisHeight;
              s.paddingLeft = 0;
              s.paddingRight = 0;
            },
            ticks: {
              autoSkip: false,
              maxRotation: 0,
              minRotation: 0,
              padding: 5,
              color: TEXT_COLOR,
              font,
              callback: (_v: any, i: number) => timeTickLabels[i],
            },
            grid: { color: GRID_COLOR, lineWidth: 1, drawTicks: false },
            border: { display: false, dash: [1, 2] },
            title: spec.xTitle
              ? { display: true, text: spec.xTitle, color: TEXT_COLOR, font, padding: { top: 0, bottom: 0 } }
              : { display: false },
          },
          y: {
            type: "linear",
            min: spec.yMin,
            max: spec.yMax,
            afterBuildTicks: (s: any) => {
              s.ticks = spec.yTicks.map((v) => ({ value: v }));
            },
            afterFit: (s: any) => {
              s.width = 103;
              s.paddingTop = 0;
              s.paddingBottom = 0;
            },
            ticks: {
              autoSkip: false,
              padding: 12,
              color: TEXT_COLOR,
              font,
              callback: (_v: any, i: number) => spec.yTickLabels[i],
            },
            grid: { color: GRID_COLOR, lineWidth: 1, drawTicks: false },
            border: { display: false, dash: [1, 2] },
            title: { display: true, text: spec.yTitle, color: TEXT_COLOR, font, padding: { top: 7, bottom: 0 } },
          },
        },
      },
      plugins: [makeFramePlugin(spec)],
    } as any);
    return () => chart.destroy();
  }, [spec]);
  return (
    <div style={{ position: "absolute", left: 0, top: spec.top, width: 956, height: spec.height }}>
      <canvas ref={ref} width={956} height={spec.height} style={{ display: "block" }} />
    </div>
  );
}

export default function App() {
  return (
    <div style={{ position: "absolute", left: 0, top: 0, width: 956, height: 730, background: "#ffffff" }}>
      {PANELS.map((p) => (
        <Panel key={p.title} spec={p} />
      ))}
    </div>
  );
}
